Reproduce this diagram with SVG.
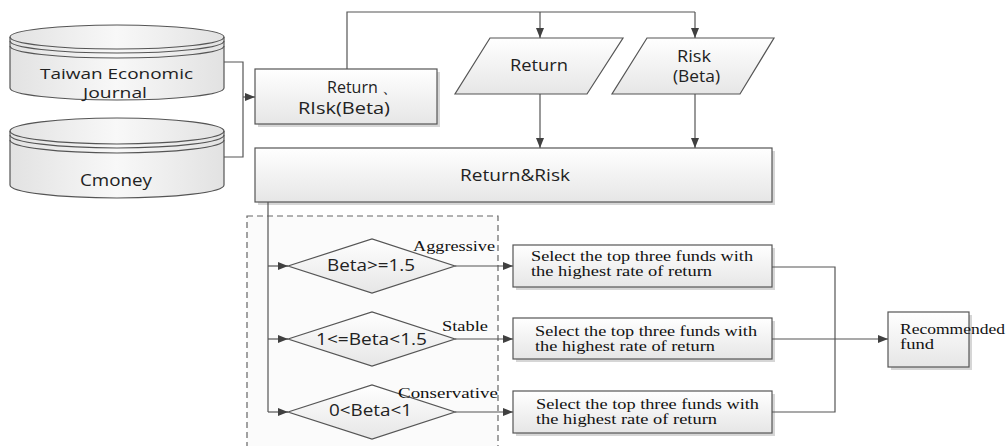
<svg xmlns="http://www.w3.org/2000/svg" width="1006" height="446" viewBox="0 0 1006 446">
<defs>
<linearGradient id="g" x1="0" y1="0" x2="0" y2="1">
<stop offset="0" stop-color="#ffffff"/>
<stop offset="1" stop-color="#e6e6e6"/>
</linearGradient>
<linearGradient id="gc" x1="0" y1="0" x2="1" y2="0">
<stop offset="0" stop-color="#e2e2e2"/>
<stop offset="0.5" stop-color="#f8f8f8"/>
<stop offset="1" stop-color="#e2e2e2"/>
</linearGradient>
<marker id="ah" viewBox="0 0 10 10" refX="10" refY="5" markerWidth="10" markerHeight="10" markerUnits="userSpaceOnUse" orient="auto">
<path d="M0,1 L10,5 L0,9 Z" fill="#404040"/>
</marker>
</defs>
<style>
.shape{fill:url(#g);stroke:#555;stroke-width:1.2}
.cyl{fill:url(#gc);stroke:#555;stroke-width:1.2}
.sh{fill:#bbb;opacity:0.6}
.con{fill:none;stroke:#555;stroke-width:1.2}
.arr{fill:none;stroke:#555;stroke-width:1.2;marker-end:url(#ah)}
.t{font-family:"Open Sans","DejaVu Sans",sans-serif;font-size:16px;fill:#222}
.tc{font-size:14.5px}
.s{font-family:"Liberation Serif","Times New Roman",serif;font-size:14px;fill:#111}
</style>
<rect width="1006" height="446" fill="#fff"/>

<g id="dash-group">
<rect x="247" y="216" width="251" height="240" fill="#f4f4f4" fill-opacity="0.35" stroke="#666" stroke-width="1.2" stroke-dasharray="6,4"/>
</g>

<g id="db-taiwan">
<path class="cyl" d="M10,37 A107,12 0 0 1 224,37 L224,88 A107,12 0 0 1 10,88 Z"/>
<path class="con" d="M10,37 A107,12 0 0 0 224,37"/>
<path class="con" d="M10,41 A107,12 0 0 0 224,41"/>
<path class="con" d="M10,46 A107,12 0 0 0 224,46"/>
<text class="t tc" x="40" y="79" textLength="153" lengthAdjust="spacingAndGlyphs">Taiwan Economic</text>
<text class="t tc" x="83" y="98" textLength="64" lengthAdjust="spacingAndGlyphs">Journal</text>
</g>

<g id="db-cmoney">
<path class="cyl" d="M10,131 A107,13 0 0 1 224,131 L224,185 A107,13 0 0 1 10,185 Z"/>
<path class="con" d="M10,131 A107,13 0 0 0 224,131"/>
<path class="con" d="M10,135 A107,13 0 0 0 224,135"/>
<path class="con" d="M10,140 A107,13 0 0 0 224,140"/>
<text class="t" x="80" y="186" textLength="72" lengthAdjust="spacingAndGlyphs">Cmoney</text>
</g>

<g id="box-return-risk">
<rect class="sh" x="258" y="72" width="182" height="55"/>
<rect class="shape" x="255" y="69" width="182" height="55"/>
<text class="t" x="327" y="93" textLength="71" lengthAdjust="spacingAndGlyphs">Return 、</text>
<text class="t" x="298" y="114" textLength="92" lengthAdjust="spacingAndGlyphs">RIsk(Beta)</text>
</g>

<g id="io-return">
<path class="shape" d="M490,38 L623,38 L587,94 L455,94 Z"/>
<text class="t" x="510" y="71" textLength="58" lengthAdjust="spacingAndGlyphs">Return</text>
</g>

<g id="io-risk">
<path class="shape" d="M647,38 L774,38 L740,94 L612,94 Z"/>
<text class="t" x="677" y="62" textLength="34" lengthAdjust="spacingAndGlyphs">Risk</text>
<text class="t" x="673" y="82" textLength="47" lengthAdjust="spacingAndGlyphs">(Beta)</text>
</g>

<g id="box-return-and-risk">
<rect class="sh" x="258" y="151" width="517" height="54"/>
<rect class="shape" x="255" y="148" width="517" height="54"/>
<text class="t" x="460" y="181" textLength="110" lengthAdjust="spacingAndGlyphs">Return&amp;Risk</text>
</g>

<g id="dec-aggressive">
<path class="shape" d="M288,266 L372,239 L455,266 L372,293 Z"/>
<text class="t" x="327" y="271" textLength="88" lengthAdjust="spacingAndGlyphs">Beta&gt;=1.5</text>
<text class="s" x="413" y="251" textLength="82" lengthAdjust="spacingAndGlyphs">Aggressive</text>
</g>

<g id="dec-stable">
<path class="shape" d="M288,339 L372,312 L455,339 L372,366 Z"/>
<text class="t" x="316" y="345" textLength="111" lengthAdjust="spacingAndGlyphs">1&lt;=Beta&lt;1.5</text>
<text class="s" x="442" y="331" textLength="46" lengthAdjust="spacingAndGlyphs">Stable</text>
</g>

<g id="dec-conservative">
<path class="shape" d="M288,412 L372,385 L455,412 L372,439 Z"/>
<text class="t" x="329" y="416" textLength="83" lengthAdjust="spacingAndGlyphs">0&lt;Beta&lt;1</text>
<text class="s" x="398" y="398" textLength="100" lengthAdjust="spacingAndGlyphs">Conservative</text>
</g>

<g id="box-select-1">
<rect class="sh" x="516" y="248" width="259" height="42"/>
<rect class="shape" x="513" y="245" width="259" height="42"/>
<text class="s" x="531" y="261" textLength="222" lengthAdjust="spacingAndGlyphs">Select the top three funds with</text>
<text class="s" x="531" y="276" textLength="181" lengthAdjust="spacingAndGlyphs">the highest rate of return</text>
</g>

<g id="box-select-2">
<rect class="sh" x="516" y="321" width="259" height="41"/>
<rect class="shape" x="513" y="318" width="259" height="41"/>
<text class="s" x="535" y="336" textLength="222" lengthAdjust="spacingAndGlyphs">Select the top three funds with</text>
<text class="s" x="535" y="351" textLength="180" lengthAdjust="spacingAndGlyphs">the highest rate of return</text>
</g>

<g id="box-select-3">
<rect class="sh" x="516" y="394" width="259" height="42"/>
<rect class="shape" x="513" y="391" width="259" height="42"/>
<text class="s" x="536" y="409" textLength="223" lengthAdjust="spacingAndGlyphs">Select the top three funds with</text>
<text class="s" x="536" y="424" textLength="181" lengthAdjust="spacingAndGlyphs">the highest rate of return</text>
</g>

<g id="box-recommended">
<rect class="sh" x="891" y="315" width="81" height="55"/>
<rect class="shape" x="888" y="312" width="81" height="55"/>
<text class="s" x="900" y="334" textLength="105" lengthAdjust="spacingAndGlyphs">Recommended</text>
<text class="s" x="900" y="349" textLength="34" lengthAdjust="spacingAndGlyphs">fund</text>
</g>

<g id="connectors">
<polyline class="con" points="224,62 243,62 243,157 224,157"/>
<line class="arr" x1="243" y1="97" x2="255" y2="97"/>
<polyline class="con" points="347,69 347,12 695,12"/>
<line class="arr" x1="540" y1="12" x2="540" y2="38"/>
<line class="arr" x1="695" y1="12" x2="695" y2="38"/>
<line class="arr" x1="540" y1="94" x2="540" y2="148"/>
<line class="arr" x1="695" y1="94" x2="695" y2="148"/>
<polyline class="con" points="268,202 268,412"/>
<line class="arr" x1="268" y1="266" x2="288" y2="266"/>
<line class="arr" x1="268" y1="339" x2="288" y2="339"/>
<line class="arr" x1="268" y1="412" x2="288" y2="412"/>
<line class="arr" x1="455" y1="266" x2="513" y2="266"/>
<line class="arr" x1="455" y1="339" x2="513" y2="339"/>
<line class="arr" x1="455" y1="412" x2="513" y2="412"/>
<polyline class="con" points="772,267 835,267 835,412 772,412"/>
<line class="arr" x1="772" y1="339" x2="888" y2="339"/>
</g>
</svg>
